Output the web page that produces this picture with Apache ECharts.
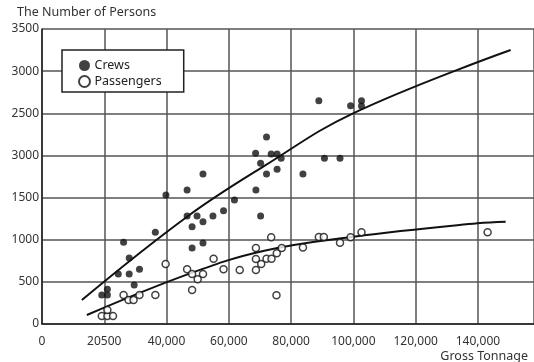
<!DOCTYPE html>
<html>
<head>
<meta charset="utf-8">
<script src="https://cdn.jsdelivr.net/npm/echarts@6/dist/echarts.min.js"></script>
<style>
  html, body { margin: 0; padding: 0; background: #fff; }
  #chart { width: 534px; height: 362px; }
</style>
</head>
<body>
<div id="chart"></div>
<script>
// tick labels as printed on the original figure
const xTickLabels = ['0', '20500', '40,000', '60,000', '80,000', '100,000', '120,000', '140,000'];
const yTickLabels = ['0', '500', '1000', '1500', '3000', '2500', '3000', '3500'];

// [gross tonnage, persons]
const crews = [
  [19200, 344], [21000, 344], [21000, 412], [24500, 593], [26200, 969],
  [28000, 783], [28000, 593], [29600, 463], [31300, 649], [36400, 1088],
  [39800, 1530], [46600, 1590], [46600, 1281], [48200, 1154], [48200, 902],
  [49800, 1281], [51700, 1214], [51700, 1780], [51700, 961], [54900, 1281],
  [58300, 1344], [61800, 1471], [68700, 1590], [70200, 1281], [68600, 2025],
  [70200, 1907], [72100, 2219], [72100, 1780], [73600, 2017], [75500, 2017],
  [75500, 1835], [76800, 1966], [83800, 1780], [88900, 2649], [90700, 1966],
  [95700, 1966], [99100, 2590], [102600, 2649], [102600, 2586]
];

const passengers = [
  [19200, 95], [21000, 95], [22800, 95], [21000, 166], [26200, 344],
  [27800, 285], [29400, 285], [31300, 344], [36400, 344], [39700, 712],
  [46600, 649], [48200, 593], [50000, 530], [51700, 593], [48200, 403],
  [55100, 775], [58300, 649], [63500, 641], [68700, 902], [68700, 771],
  [68700, 641], [70400, 712], [72100, 775], [73700, 775], [75400, 839],
  [77000, 902], [73600, 1029], [75300, 340], [83800, 908], [88900, 1032],
  [90500, 1032], [95700, 965], [99100, 1029], [102600, 1088], [143100, 1088]
];

// fitted curves as drawn
const crewsFit = [
  [12800, 285], [46600, 1273], [71400, 1875], [99900, 2500], [150500, 3251]
];
const passengersFit = [
  [14400, 107], [47600, 601], [71400, 870], [100100, 1036], [139800, 1195], [148900, 1214]
];

const font = 'Noto Sans';
const chart = echarts.init(document.getElementById('chart'), null, { renderer: 'canvas' });

chart.setOption({
  animation: false,
  backgroundColor: '#fff',
  textStyle: { fontFamily: font },
  grid: { left: 42, right: 0, top: 29, bottom: 38, outerBoundsMode: 'none' },
  legend: {
    orient: 'vertical',
    left: 62,
    top: 50,
    data: ['Crews', 'Passengers'],
    icon: 'circle',
    itemWidth: 12,
    itemHeight: 11,
    itemGap: 3,
    padding: [9, 22, 4, 16],
    borderColor: '#222',
    borderWidth: 1.5,
    backgroundColor: '#fff',
    textStyle: { fontFamily: font, fontSize: 12.5, color: '#222', padding: [0, 0, 0, -1] }
  },
  xAxis: {
    type: 'value',
    min: 0,
    max: 158000,
    interval: 20000,
    axisLine: { show: true, onZero: false, lineStyle: { color: '#222', width: 1.5 } },
    axisTick: { show: false },
    splitLine: { show: true, lineStyle: { color: '#555', width: 1.5 } },
    axisLabel: {
      margin: 12,
      fontSize: 12,
      color: '#333',
      showMaxLabel: false,
      formatter: (v) => xTickLabels[v / 20000] || ''
    }
  },
  yAxis: {
    type: 'value',
    min: 0,
    max: 3500,
    interval: 500,
    axisLine: { show: true, lineStyle: { color: '#222', width: 1.5 } },
    axisTick: { show: false },
    splitLine: { show: true, lineStyle: { color: '#555', width: 1.5 } },
    axisLabel: {
      margin: 3,
      fontSize: 12,
      color: '#333',
      formatter: (v) => yTickLabels[v / 500]
    }
  },
  graphic: [
    { type: 'text', left: 17, top: 6, style: { text: 'The Number of Persons', font: '12.5px "Noto Sans"', fill: '#333' } },
    { type: 'text', right: 6, top: 350, style: { text: 'Gross Tonnage', font: '12.5px "Noto Sans"', fill: '#333' } }
  ],
  series: [
    {
      name: 'Crews fit', type: 'line', data: crewsFit, smooth: 0.4, showSymbol: false, silent: true,
      lineStyle: { color: '#111', width: 2 }, z: 1
    },
    {
      name: 'Passengers fit', type: 'line', data: passengersFit, smooth: 0.4, showSymbol: false, silent: true,
      lineStyle: { color: '#111', width: 2 }, z: 1
    },
    {
      name: 'Crews', type: 'scatter', data: crews, symbolSize: 7,
      itemStyle: { color: '#111' }, z: 3
    },
    {
      name: 'Passengers', type: 'scatter', data: passengers, symbolSize: 7,
      itemStyle: { color: '#fff', borderColor: '#111', borderWidth: 1.5 }, z: 3
    }
  ]
});
</script>
</body>
</html>
